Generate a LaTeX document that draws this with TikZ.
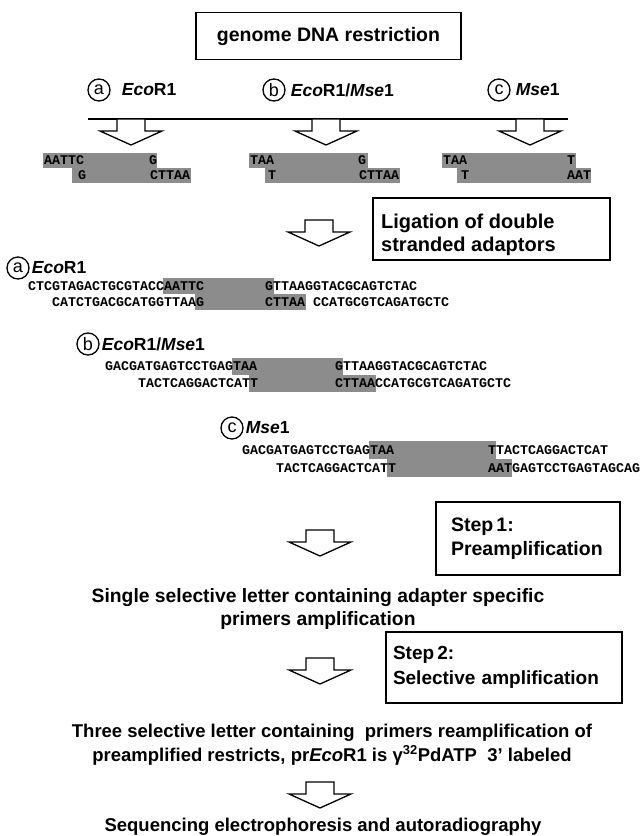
\documentclass[tikz,border=0pt]{standalone}
\usepackage{fontspec}
\setmainfont{Liberation Sans}
\setmonofont{Liberation Mono}
\usetikzlibrary{positioning}
\definecolor{cutgray}{gray}{0.55}

\begin{document}
\begin{tikzpicture}[x=1pt, y=-1pt,
  box/.style={draw, line width=1.2pt, inner sep=0pt},
  seq/.style={anchor=west, inner sep=0pt, font=\fontsize{13.33}{14}\selectfont\ttfamily\bfseries},
  enz/.style={draw, circle, line width=1.3pt, minimum size=22pt, inner sep=0pt, font=\fontsize{18}{18}\selectfont},
  lab/.style={inner sep=1pt, font=\fontsize{17.5}{18}\selectfont\bfseries},
  txt/.style={align=center, inner sep=0pt, font=\fontsize{18.5}{23.5}\selectfont\bfseries},
  hollow/.pic={\draw[line width=1.3pt, fill=white] (-14,0) -- (-14,12) -- (-31,12) -- (0,26) -- (31,12) -- (14,12) -- (14,0) -- cycle;}]
  \useasboundingbox (0,0) rectangle (641,836);

  \node[box, minimum width=265pt, minimum height=47pt, font=\fontsize{19.5}{20}\selectfont\bfseries] (dna) at (328.5,36) {genome DNA restriction};

  \node[enz] (ca) at (99,90) {a};
  \node[lab, right=10pt of ca] (ea) {\textit{Eco}R1};
  \node[enz] (cb) at (274,90) {b};
  \node[lab, right=4pt of cb] (eb) {\textit{Eco}R1/\textit{Mse}1};
  \node[enz] (cc) at (499,90) {c};
  \node[lab, right=4pt of cc] (ec) {\textit{Mse}1};

  \coordinate (cutl) at (88,119);
  \coordinate (cutr) at (568,119);
  \draw[line width=1.3pt] (cutl) -- (cutr);
  \pic at (131,119) {hollow};
  \pic at (326,119) {hollow};
  \pic at (530,119) {hollow};

  \fill[cutgray] (43,153) rectangle (157,168);
  \fill[cutgray] (72,168) rectangle (191,183);
  \fill[cutgray] (249,153) rectangle (368,168);
  \fill[cutgray] (265,168) rectangle (400,183);
  \fill[cutgray] (442,153) rectangle (576,168);
  \fill[cutgray] (457,168) rectangle (591,183);
  \node[seq] (fa1) at (44,160.5) {AATTC};
  \node[seq] (fa2) at (149,160.5) {G};
  \node[seq] (fa3) at (78,175.5) {G};
  \node[seq] (fa4) at (150,175.5) {CTTAA};
  \node[seq] (fb1) at (250,160.5) {TAA};
  \node[seq] (fb2) at (358,160.5) {G};
  \node[seq] (fb3) at (268,175.5) {T};
  \node[seq] (fb4) at (359,175.5) {CTTAA};
  \node[seq] (fc1) at (443,160.5) {TAA};
  \node[seq] (fc2) at (567,160.5) {T};
  \node[seq] (fc3) at (461,175.5) {T};
  \node[seq] (fc4) at (567,175.5) {AAT};

  \pic at (319,220) {hollow};
  \node[box, minimum width=237pt, minimum height=62pt] (lig) at (491.5,229) {};
  \node[align=left, anchor=west, inner sep=0pt, font=\fontsize{20}{23}\selectfont\bfseries] (ligt) at (381,235) {Ligation of double\\stranded adaptors};

  \node[enz] (sa) at (18,268) {a};
  \node[lab, right=1pt of sa] (la) {\textit{Eco}R1};
  \fill[cutgray] (163,278) rectangle (274,294);
  \fill[cutgray] (195,294) rectangle (306,310);
  \node[seq] (sa1) at (28,286) {CTCGTAGACTGCGTACCAATTC};
  \node[seq] (sa2) at (265,286) {GTTAAGGTACGCAGTCTAC};
  \node[seq] (sa3) at (52,302) {CATCTGACGCATGGTTAAG};
  \node[seq] (sa4) at (265,302) {CTTAA CCATGCGTCAGATGCTC};

  \node[enz] (sb) at (88,344) {b};
  \node[lab, right=1pt of sb] (lb) {\textit{Eco}R1/\textit{Mse}1};
  \fill[cutgray] (232,358) rectangle (343,375);
  \fill[cutgray] (249,375) rectangle (376,392);
  \node[seq] (sb1) at (105,366) {GACGATGAGTCCTGAGTAA};
  \node[seq] (sb2) at (335,366) {GTTAAGGTACGCAGTCTAC};
  \node[seq] (sb3) at (138,383) {TACTCAGGACTCATT};
  \node[seq] (sb4) at (335,383) {CTTAACCATGCGTCAGATGCTC};

  \node[enz] (sc) at (232,428) {c};
  \node[lab, right=1pt of sc] (lc) {\textit{Mse}1};
  \fill[cutgray] (369,441) rectangle (496,459);
  \fill[cutgray] (387,459) rectangle (512,477);
  \node[seq] (sc1) at (242,450) {GACGATGAGTCCTGAGTAA};
  \node[seq] (sc2) at (488,450) {TTACTCAGGACTCAT};
  \node[seq] (sc3) at (276,468) {TACTCAGGACTCATT};
  \node[seq] (sc4) at (488,468) {AATGAGTCCTGAGTAGCAG};

  \node[box, minimum width=184pt, minimum height=73pt, align=left, text width=154pt, font=\fontsize{19.5}{24}\selectfont\bfseries] (st1) at (528,538.5) {Step\,1:\\Preamplification};
  \pic at (320,530) {hollow};
  \node[txt, anchor=base, font=\fontsize{19.3}{23}\selectfont\bfseries] (pre) at (318,625) {Single selective letter containing adapter specific\\primers amplification};

  \node[box, minimum width=236pt, minimum height=71pt, align=left, text width=222pt, font=\fontsize{19}{25}\selectfont\bfseries] (st2) at (504,667.5) {Step\,2:\\Selective amplification};
  \pic at (320,658) {hollow};
  \node[txt, anchor=base] (sel) at (332,761) {Three selective letter containing\ \ primers reamplification of\\preamplified restricts, pr\textit{Eco}R1 is γ\textsuperscript{32}PdATP\ \ 3’ labeled};

  \pic at (320,782) {hollow};
  \node[txt, anchor=base] (sqn) at (323,831) {Sequencing electrophoresis and autoradiography};
\end{tikzpicture}
\end{document}
